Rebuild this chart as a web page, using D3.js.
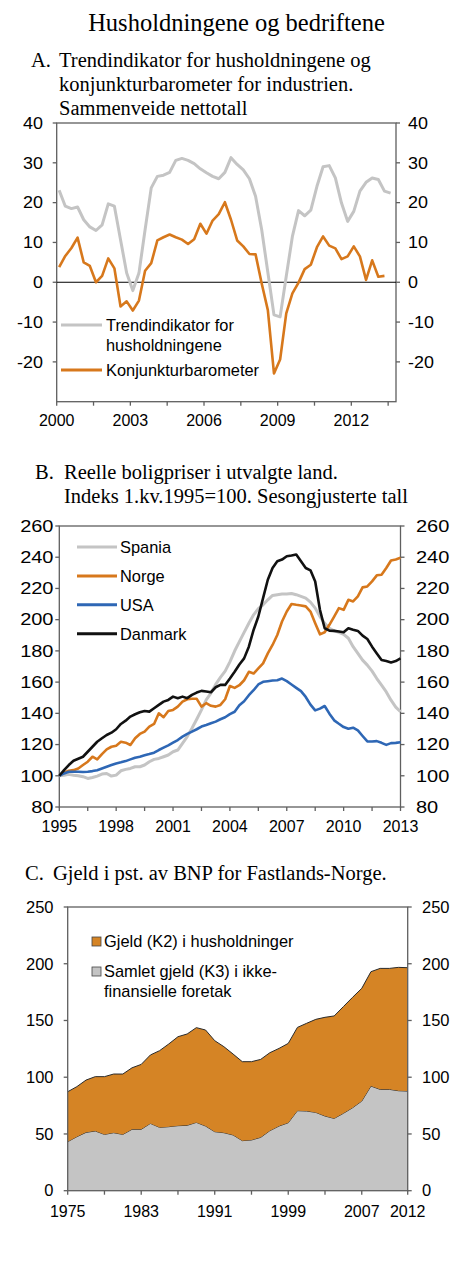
<!DOCTYPE html>
<html><head><meta charset="utf-8">
<script src="https://cdn.jsdelivr.net/npm/d3@7"></script>
<style>
body{margin:0;background:#fff;}
svg text{font-family:"Liberation Sans",Arial,sans-serif;fill:#000;}
.serif{font-family:"Liberation Serif","Times New Roman",serif !important;}
</style></head>
<body>
<svg id="c" width="450" height="1262"></svg>
<script>
// ---------- Panel A data (quarterly, from 2000 Q1) ----------
const aStart = 2000.1;
const aTrend = [23.1,19.1,18.5,18.9,15.7,13.9,13.0,14.4,19.7,19.1,10.7,2.3,-2.1,2.3,13.2,23.7,26.6,26.9,27.6,30.6,31.1,30.6,29.8,28.5,27.5,26.6,26.0,27.6,31.3,29.6,28.2,26.0,21.6,13.2,2.5,-8.2,-8.7,1.5,11.5,18.0,16.7,18.1,24.1,29.0,29.3,26.2,19.9,15.3,17.8,22.9,25.1,26.2,25.8,22.9,22.4];
const aKonj = [3.8,6.6,8.6,11.2,5.0,4.1,0.0,1.6,6.0,3.5,-6.1,-4.8,-7.1,-4.6,2.9,4.8,10.5,11.3,12.0,11.3,10.7,9.6,10.8,14.7,12.2,15.5,17.1,20.1,15.7,10.5,9.0,7.1,7.0,-0.3,-7.0,-22.9,-19.4,-7.8,-2.8,-0.1,3.3,4.4,8.8,11.5,9.2,8.5,5.8,6.5,9.0,6.5,0.6,5.5,1.4,1.6];
const aYTicks = [-20,-10,0,10,20,30,40];
const aXTicks = [2000,2001.5,2003,2004.5,2006,2007.5,2009,2010.5,2012,2013.5];
const aXLabels = [2000,2003,2006,2009,2012];
const aLegend = [["Trendindikator for","husholdningene"],["Konjunkturbarometer"]];

// ---------- Panel B data (quarterly, 1995 Q1 - 2013 Q1) ----------
const bStart = 1995;
const bSpania = [100,100.4,100.9,100.4, 100,99.4,98.3,98.9, 99.8,101.1,101.5,99.8, 100.4,103.2,104.1,104.7, 105.8,105.8,106.9,109, 110.5,111.1,112.2,113.3, 115.4,116.5,120.8,125.1, 130.4,136.2,142.2,148.6, 153,158.5,163,167, 173,179.9,185.9,191.9, 197.7,203.1,207,209.5, 212.7,215.5,216,216.4, 216.4,216.8,216,214.9, 213.8,211.2,207.4,202, 197.7,194.5,192.8,191.9, 190.6,188.1,182.7,178.4, 174.1,170.9,167,162.3, 158,153.7,148.4,144, 141];
const bNorge = [100,102.1,103.2,103.6, 104.7,106.9,109,112.2, 110.5,113.9,116.9,118.6, 119.3,121.8,121.2,119.7, 124,126.8,128.3,131.5, 133.2,140,137.5,141.5, 142.2,144.3,147.5,149, 149.3,149.3,144.3,146.5, 144.8,144.3,145.4,149, 157.5,156.3,158,161.2, 166.6,165.5,168.8,172, 178.4,183.8,190.2,198.8, 205.2,210,209.5,209.1, 208.5,205.2,197.7,190.6, 191.9,196.7,202,207.4, 206.3,212.7,211.7,214.9, 220.7,221.3,224.5,228.4, 228.8,233.1,237.9,238.5, 239.6];
const bUSA = [100,101.5,102.6,102.6, 102.6,102.4,102.6,103, 103.6,104.7,105.8,106.9, 107.9,108.6,109.4,110.5, 111.6,112.2,113.1,113.9, 114.8,116.5,118,119.5, 121.2,122.9,125.1,126.8, 128.3,129.8,131.5,132.5, 133.6,134.7,136.2,137.5, 139.5,141,145.2,147.7, 151.6,154.8,158.5,160.2, 160.6,161,161.2,162.3, 160.6,158.5,156.3,154.2, 150.5,145.6,141.9,143, 144.7,139.8,135.5,133.3, 131.2,130.1,130.8,129.1, 125.5,122,122,122.2, 121.1,119.8,120.9,121.1, 121.5];
const bDanmark = [100,103.6,106.9,109.6, 110.9,112.2,115.4,118.6, 121.8,124,126.1,127.6, 129.8,133.2,135.3,137.9, 139.4,140.7,141.5,141.1, 143.3,145.4,147.5,148.6, 150.7,149.7,150.7,149.7, 151.8,153.3,154.4,154, 153.5,156.7,158.2,158.2, 162.3,166.6,171.3,175.2, 182.7,193.4,202,213.8, 225.6,233.1,237.4,238.5, 240.6,241.1,241.7,237.4, 233.1,231.6,224.5,206.3, 194.5,193,192.8,192.4, 191.9,194.5,193.6,192.8, 189.8,187.6,182.7,178.4, 174.1,173.5,172.6,173.5, 175.2];
const bNames = ["Spania","Norge","USA","Danmark"];
const bYTicks = [80,100,120,140,160,180,200,220,240,260];
const bXTicks = [1995,1996.5,1998,1999.5,2001,2002.5,2004,2005.5,2007,2008.5,2010,2011.5,2013];
const bXLabels = [1995,1998,2001,2004,2007,2010,2013];

// ---------- Panel C data (annual, 1975-2012) ----------
const cYears = d3.range(1975, 2013);
const cForetak = [43.2,47.6,51.4,52.6,49.6,51.1,49.6,54.1,54.1,59.3,55.8,56.4,57.3,57.6,60.2,57.0,52.0,51.1,49.1,44.1,44.7,47.0,52.9,57.0,59.9,70.5,70.2,69.0,65.8,63.7,68.2,73.1,79.0,92.2,89.3,89.3,88.1,87.8];
const cHush = [44.0,44.1,46.1,47.9,50.9,51.7,53.2,54.2,57.2,60.3,67.6,72.9,78.4,80.5,83.5,84.6,80.2,75.8,71.3,69.6,69.0,68.7,68.7,68.4,69.9,73.4,77.3,82.0,87.0,90.3,94.0,97.3,99.3,100.8,106.6,106.6,108.7,108.7];
const cYTicks = [0,50,100,150,200,250];
const cXTicks = [1975,1979,1983,1987,1991,1995,1999,2003,2007,2012];
const cXLabels = [1975,1983,1991,1999,2007,2012];
const cLegend = [["Gjeld (K2) i husholdninger"],["Samlet gjeld (K3) i ikke-","finansielle foretak"]];

// ---------- colours ----------
const ORANGE = "#D7781C", GRAY = "#C4C4C4", BLUE = "#2E67B5", BLACK = "#111";
const AXIS = "#5f5f5f";

const svg = d3.select("#c");

function serifText(x, y, t, size, anchor){
  svg.append("text").attr("class","serif").attr("x",x).attr("y",y)
    .attr("font-size",size).attr("text-anchor",anchor||"start").text(t);
}

serifText(236.5, 31, "Husholdningene og bedriftene", 24.5, "middle");

function frame(x, y, opts){
  const g = svg.append("g");
  const [x0,x1] = x.range(), [y0,y1] = y.range();
  g.append("rect").attr("x",x0).attr("y",y1).attr("width",x1-x0).attr("height",y0-y1)
    .attr("fill","none").attr("stroke",AXIS).attr("stroke-width",1.3);
  const sx = opts.sx || 1;
  opts.yTicks.forEach(v=>{
    const yy = y(v);
    g.append("line").attr("x1",x0-4).attr("x2",x0).attr("y1",yy).attr("y2",yy).attr("stroke",AXIS).attr("stroke-width",1.3);
    g.append("line").attr("x1",x1).attr("x2",x1+4).attr("y1",yy).attr("y2",yy).attr("stroke",AXIS).attr("stroke-width",1.3);
    g.append("text").attr("transform",`translate(${opts.lx},${yy}) scale(${sx},1)`).attr("dy","0.36em").attr("text-anchor","end").attr("font-size",opts.fs).text(v);
    g.append("text").attr("transform",`translate(${opts.rx},${yy}) scale(${sx},1)`).attr("dy","0.36em").attr("text-anchor","start").attr("font-size",opts.fs).text(v);
  });
  opts.xTicks.forEach(v=>{
    const xx = x(v);
    g.append("line").attr("x1",xx).attr("x2",xx).attr("y1",y0).attr("y2",y0+4).attr("stroke",AXIS).attr("stroke-width",1.3);
  });
  opts.xLabels.forEach(v=>{
    g.append("text").attr("x",x(v)).attr("y",y0+opts.xdy).attr("text-anchor","middle").attr("font-size",opts.fs).text(v);
  });
  return g;
}

// ================= Panel A =================
serifText(31, 67, "A.", 20.5);
serifText(59, 67, "Trendindikator for husholdningene og", 20.5);
serifText(59, 91, "konjunkturbarometer for industrien.", 20.5);
serifText(59, 115, "Sammenveide nettotall", 20.5);

const xA = d3.scaleLinear().domain([2000, 2013.82]).range([56.7, 396]);
const yA = d3.scaleLinear().domain([-30, 40]).range([401.7, 123]);
frame(xA, yA, {yTicks:aYTicks, xTicks:aXTicks.filter(v=>v<=2013.82), xLabels:aXLabels, lx:43, rx:408, fs:16, xdy:24, sx:1.12});
svg.append("line").attr("x1",xA.range()[0]).attr("x2",xA.range()[1]).attr("y1",yA(0)).attr("y2",yA(0)).attr("stroke","#000").attr("stroke-width",1);

const lineA = d3.line().x((d,i)=>xA(aStart + i*0.25)).y(d=>yA(d));
svg.append("path").datum(aTrend).attr("d",lineA).attr("fill","none").attr("stroke",GRAY).attr("stroke-width",3).attr("stroke-linejoin","round");
svg.append("path").datum(aKonj).attr("d",lineA).attr("fill","none").attr("stroke",ORANGE).attr("stroke-width",2.6).attr("stroke-linejoin","round");

[[GRAY,325,aLegend[0]],[ORANGE,370,aLegend[1]]].forEach(([c,yy,lines])=>{
  svg.append("line").attr("x1",61).attr("x2",102).attr("y1",yy).attr("y2",yy).attr("stroke",c).attr("stroke-width",3);
  lines.forEach((t,k)=>svg.append("text").attr("x",106).attr("y",yy+k*20.5).attr("dy","0.36em").attr("font-size",16.4).text(t));
});

// ================= Panel B =================
serifText(35, 479, "B.", 20.5);
serifText(64, 479, "Reelle boligpriser i utvalgte land.", 20.5);
serifText(64, 503, "Indeks 1.kv.1995=100. Sesongjusterte tall", 20.5);

const xB = d3.scaleLinear().domain([1995, 2013]).range([59.3, 400.5]);
const yB = d3.scaleLinear().domain([80, 260]).range([807, 526]);
frame(xB, yB, {yTicks:bYTicks, xTicks:bXTicks, xLabels:bXLabels, lx:53.5, rx:416, fs:16, xdy:25, sx:1.25});
const lineB = d3.line().x((d,i)=>xB(bStart + i*0.25)).y(d=>yB(d));
const bSeries = [bSpania,bNorge,bUSA,bDanmark];
const bColors = [GRAY,ORANGE,BLUE,BLACK];
bSeries.forEach((s,k)=>{
  svg.append("path").datum(s).attr("d",lineB).attr("fill","none").attr("stroke",bColors[k])
    .attr("stroke-width", k===0?3:2.6).attr("stroke-linejoin","round");
});
bNames.forEach((n,k)=>{
  const yy = 547 + k*28.9;
  svg.append("line").attr("x1",77).attr("x2",117).attr("y1",yy).attr("y2",yy).attr("stroke",bColors[k]).attr("stroke-width",3);
  svg.append("text").attr("x",120).attr("y",yy).attr("dy","0.36em").attr("font-size",16.4).text(n);
});

// ================= Panel C =================
serifText(25, 880, "C.", 20.5);
serifText(53, 880, "Gjeld i pst. av BNP for Fastlands-Norge.", 20.5);

const xC = d3.scaleLinear().domain([1975, 2012]).range([67.7, 407.7]);
const yC = d3.scaleLinear().domain([0, 250]).range([1190.7, 907]);
const stackData = cYears.map((yr,i)=>({year:yr, foretak:cForetak[i], hush:cHush[i]}));
const stacked = d3.stack().keys(["foretak","hush"])(stackData);
const areaC = d3.area().x(d=>xC(d.data.year)).y0(d=>yC(d[0])).y1(d=>yC(d[1]));
const cFill = [GRAY, "#D58425"];
stacked.forEach((layer,k)=>{
  svg.append("path").datum(layer).attr("d",areaC).attr("fill",cFill[k]).attr("stroke","none");
  svg.append("path").datum(layer).attr("d",d3.line().x(d=>xC(d.data.year)).y(d=>yC(d[1])))
    .attr("fill","none").attr("stroke","#2a2a2a").attr("stroke-width",1);
});
frame(xC, yC, {yTicks:cYTicks, xTicks:cXTicks, xLabels:cXLabels, lx:53.5, rx:422, fs:16, xdy:26, sx:1.03});

[[ "#D58425", 941.5, cLegend[0]], [GRAY, 971.5, cLegend[1]]].forEach(([c,yy,lines])=>{
  svg.append("rect").attr("x",92).attr("y",yy-4.5).attr("width",9).attr("height",9).attr("fill",c).attr("stroke","#444").attr("stroke-width",0.8);
  lines.forEach((t,k)=>svg.append("text").attr("x",104).attr("y",yy+k*19.5).attr("dy","0.36em").attr("font-size",16.4).text(t));
});
</script>
</body></html>
